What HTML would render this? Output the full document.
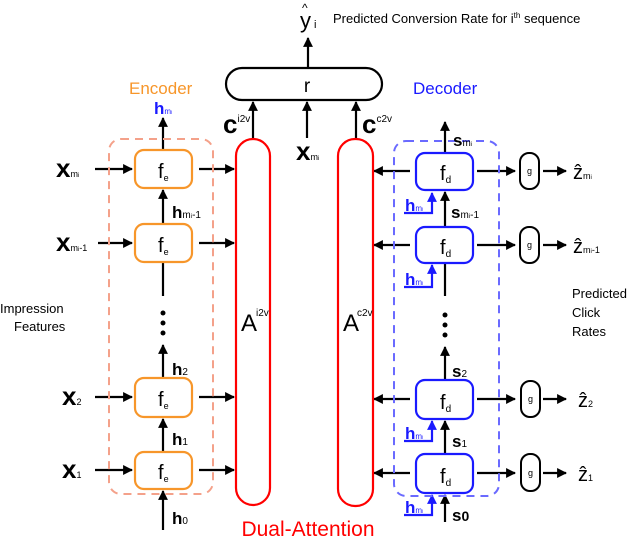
<!DOCTYPE html>
<html><head><meta charset="utf-8"><style>
body{margin:0;background:#fff}
svg{display:block;font-family:"Liberation Sans",Arial,sans-serif}
.b{font-weight:bold}
</style></head><body>
<svg width="640" height="536" viewBox="0 0 640 536" xmlns="http://www.w3.org/2000/svg">
<defs>
<marker id="a" viewBox="0 0 10 10" refX="9" refY="5" markerWidth="4.5" markerHeight="4.5" orient="auto"><path d="M0,0L10,5L0,10z" fill="#000"/></marker>
<marker id="ab" viewBox="0 0 10 10" refX="9" refY="5" markerWidth="4.5" markerHeight="4.5" orient="auto"><path d="M0,0L10,5L0,10z" fill="#1a1aff"/></marker>
</defs>
<g stroke="#000" stroke-width="2.2" fill="none" marker-end="url(#a)">
<!-- top -->
<line x1="308" y1="68" x2="308" y2="38"/>
<line x1="253" y1="138" x2="253" y2="102"/>
<line x1="307" y1="138" x2="307" y2="102"/>
<line x1="356" y1="138" x2="356" y2="102"/>
<!-- encoder horizontals -->
<line x1="95" y1="169" x2="132" y2="169"/><line x1="199" y1="169" x2="234" y2="169"/>
<line x1="98" y1="243" x2="132" y2="243"/><line x1="199" y1="243" x2="234" y2="243"/>
<line x1="95" y1="397" x2="132" y2="397"/><line x1="199" y1="397" x2="234" y2="397"/>
<line x1="95" y1="470" x2="132" y2="470"/><line x1="199" y1="470" x2="234" y2="470"/>
<!-- encoder verticals -->
<line x1="163" y1="150" x2="163" y2="118"/>
<line x1="163" y1="224" x2="163" y2="190"/>
<line x1="163" y1="378" x2="163" y2="345"/>
<line x1="163" y1="452" x2="163" y2="419"/>
<line x1="163" y1="530" x2="163" y2="491"/>
<!-- decoder horizontals -->
<line x1="410" y1="171" x2="374" y2="171"/><line x1="477" y1="171" x2="515" y2="171"/><line x1="543" y1="171" x2="566" y2="171"/>
<line x1="410" y1="245" x2="374" y2="245"/><line x1="477" y1="245" x2="515" y2="245"/><line x1="543" y1="245" x2="566" y2="245"/>
<line x1="410" y1="399" x2="374" y2="399"/><line x1="477" y1="399" x2="515" y2="399"/><line x1="543" y1="399" x2="566" y2="399"/>
<line x1="410" y1="473" x2="374" y2="473"/><line x1="477" y1="473" x2="515" y2="473"/><line x1="543" y1="473" x2="566" y2="473"/>
<!-- decoder verticals -->
<line x1="445" y1="153" x2="445" y2="122"/>
<line x1="445" y1="227" x2="445" y2="192"/>
<line x1="445" y1="380" x2="445" y2="347"/>
<line x1="445" y1="454" x2="445" y2="421"/>
<line x1="445" y1="522" x2="445" y2="495"/>
</g>
<g stroke="#000" stroke-width="2.2">
<line x1="163" y1="262" x2="163" y2="296"/>
<line x1="445" y1="263" x2="445" y2="296"/>
</g>
<g fill="#000">
<circle cx="163" cy="313" r="2.5"/><circle cx="163" cy="323" r="2.5"/><circle cx="163" cy="333" r="2.5"/>
<circle cx="445" cy="315" r="2.5"/><circle cx="445" cy="325" r="2.5"/><circle cx="445" cy="335" r="2.5"/>
</g>
<!-- blue h inputs -->
<g stroke="#1a1aff" stroke-width="2.2" fill="none" marker-end="url(#ab)">
<path d="M404,213 H432 V193"/>
<path d="M404,287 H432 V265"/>
<path d="M404,441 H432 V421"/>
<path d="M404,515 H432 V495"/>
</g>
<!-- dashed containers -->
<rect x="109" y="139" width="104" height="355" rx="12" fill="none" stroke="#f4a18a" stroke-width="2" stroke-dasharray="8,6"/>
<rect x="394" y="141" width="105" height="355" rx="12" fill="none" stroke="#6a6aff" stroke-width="2" stroke-dasharray="8,6"/>
<!-- r -->
<rect x="226" y="68" width="156" height="32" rx="16" fill="#fff" stroke="#000" stroke-width="2.2"/>
<text x="307" y="92" font-size="19" text-anchor="middle">r</text>
<!-- attention -->
<rect x="236" y="139" width="34" height="366" rx="17" fill="none" stroke="#f00" stroke-width="2.2"/>
<rect x="338" y="139" width="35" height="367" rx="17" fill="none" stroke="#f00" stroke-width="2.2"/>
<!-- encoder boxes -->
<g fill="#fff" stroke="#f7962a" stroke-width="2.2">
<rect x="135" y="150" width="57" height="38" rx="9"/>
<rect x="135" y="224" width="57" height="38" rx="9"/>
<rect x="135" y="378" width="57" height="39" rx="9"/>
<rect x="135" y="452" width="57" height="37" rx="9"/>
</g>
<g fill="#fff" stroke="#1a1aff" stroke-width="2.2">
<rect x="416" y="153" width="57" height="37" rx="9"/>
<rect x="416" y="227" width="57" height="36" rx="9"/>
<rect x="416" y="380" width="57" height="39" rx="9"/>
<rect x="416" y="454" width="57" height="39" rx="9"/>
</g>
<g fill="#fff" stroke="#000" stroke-width="2">
<rect x="520" y="153" width="19" height="36" rx="9"/>
<rect x="520" y="227" width="19" height="36" rx="9"/>
<rect x="521" y="381" width="19" height="36" rx="9"/>
<rect x="521" y="454" width="19" height="37" rx="9"/>
</g>
<g font-size="20">
<text x="158" y="178">f<tspan font-size="9" dy="3">e</tspan></text>
<text x="158" y="252">f<tspan font-size="9" dy="3">e</tspan></text>
<text x="158" y="406">f<tspan font-size="9" dy="3">e</tspan></text>
<text x="158" y="479">f<tspan font-size="9" dy="3">e</tspan></text>
<text x="440" y="180">f<tspan font-size="10" dy="3">d</tspan></text>
<text x="440" y="254">f<tspan font-size="10" dy="3">d</tspan></text>
<text x="440" y="409">f<tspan font-size="10" dy="3">d</tspan></text>
<text x="440" y="483">f<tspan font-size="10" dy="3">d</tspan></text>
</g>
<g font-size="9" text-anchor="middle">
<text x="529.5" y="174">g</text><text x="529.5" y="248">g</text><text x="530.5" y="402">g</text><text x="530.5" y="476">g</text>
</g>
<!-- z hats -->
<g font-size="20">
<text x="573" y="179">ẑ<tspan font-size="9">m<tspan font-size="6">i</tspan></tspan></text>
<text x="573" y="253">ẑ<tspan font-size="9">m<tspan font-size="6">i</tspan>-1</tspan></text>
<text x="578" y="407">ẑ<tspan font-size="9">2</tspan></text>
<text x="578" y="481">ẑ<tspan font-size="9">1</tspan></text>
</g>
<!-- x labels -->
<g font-size="26" class="b">
<text x="56" y="177">x<tspan font-size="9" font-weight="normal">m<tspan font-size="6">i</tspan></tspan></text>
<text x="56" y="251">x<tspan font-size="9" font-weight="normal">m<tspan font-size="6">i</tspan>-1</tspan></text>
<text x="62" y="405">x<tspan font-size="9" font-weight="normal">2</tspan></text>
<text x="62" y="478">x<tspan font-size="9" font-weight="normal">1</tspan></text>
<text x="296" y="160">x<tspan font-size="9" font-weight="normal">m<tspan font-size="6">i</tspan></tspan></text>
<text x="223" y="133">c<tspan font-size="10" font-weight="normal" dy="-11">i2v</tspan></text>
<text x="362" y="133">c<tspan font-size="10" font-weight="normal" dy="-11">c2v</tspan></text>
</g>
<!-- h labels -->
<g font-size="17" class="b">
<text x="154" y="114" fill="#1a1aff">h<tspan font-size="8" font-weight="normal">m<tspan font-size="5">i</tspan></tspan></text>
<text x="172" y="218">h<tspan font-size="10" font-weight="normal">m<tspan font-size="6">i</tspan>-1</tspan></text>
<text x="172" y="375">h<tspan font-size="10" font-weight="normal">2</tspan></text>
<text x="172" y="445">h<tspan font-size="10" font-weight="normal">1</tspan></text>
<text x="172" y="524">h<tspan font-size="10" font-weight="normal">0</tspan></text>
<g fill="#1a1aff">
<text x="405" y="211">h<tspan font-size="8" font-weight="normal">m<tspan font-size="5">i</tspan></tspan></text>
<text x="405" y="285">h<tspan font-size="8" font-weight="normal">m<tspan font-size="5">i</tspan></tspan></text>
<text x="405" y="439">h<tspan font-size="8" font-weight="normal">m<tspan font-size="5">i</tspan></tspan></text>
<text x="405" y="513">h<tspan font-size="8" font-weight="normal">m<tspan font-size="5">i</tspan></tspan></text>
</g>
<text x="453" y="146">s<tspan font-size="10" font-weight="normal">m<tspan font-size="6">i</tspan></tspan></text>
<text x="451" y="218">s<tspan font-size="10" font-weight="normal">m<tspan font-size="6">i</tspan>-1</tspan></text>
<text x="452" y="377">s<tspan font-size="10" font-weight="normal">2</tspan></text>
<text x="452" y="447">s<tspan font-size="10" font-weight="normal">1</tspan></text>
<text x="452" y="521">s<tspan font-size="14" font-weight="bold">0</tspan></text>
</g>
<!-- A labels -->
<text x="241" y="331" font-size="24">A</text><text x="256" y="316" font-size="10">i2v</text>
<text x="343" y="331" font-size="24">A</text><text x="357" y="316" font-size="10">c2v</text>
<!-- titles -->
<text x="129" y="94" font-size="17" fill="#f7962a">Encoder</text>
<text x="413" y="94" font-size="17" fill="#1a1aff">Decoder</text>
<text x="308" y="536" font-size="21" fill="#f00" text-anchor="middle">Dual-Attention</text>
<text x="300" y="28" font-size="22">y</text><text x="302" y="12" font-size="12">^</text><text x="314" y="28" font-size="11">i</text>
<text x="333" y="23" font-size="13">Predicted Conversion Rate for i<tspan font-size="8" dy="-5">th</tspan><tspan dy="5"> sequence</tspan></text>
<text x="0" y="313" font-size="13">Impression</text>
<text x="14" y="331" font-size="13">Features</text>
<text x="572" y="298" font-size="13">Predicted</text>
<text x="572" y="317" font-size="13">Click</text>
<text x="572" y="336" font-size="13">Rates</text>
</svg>
</body></html>
